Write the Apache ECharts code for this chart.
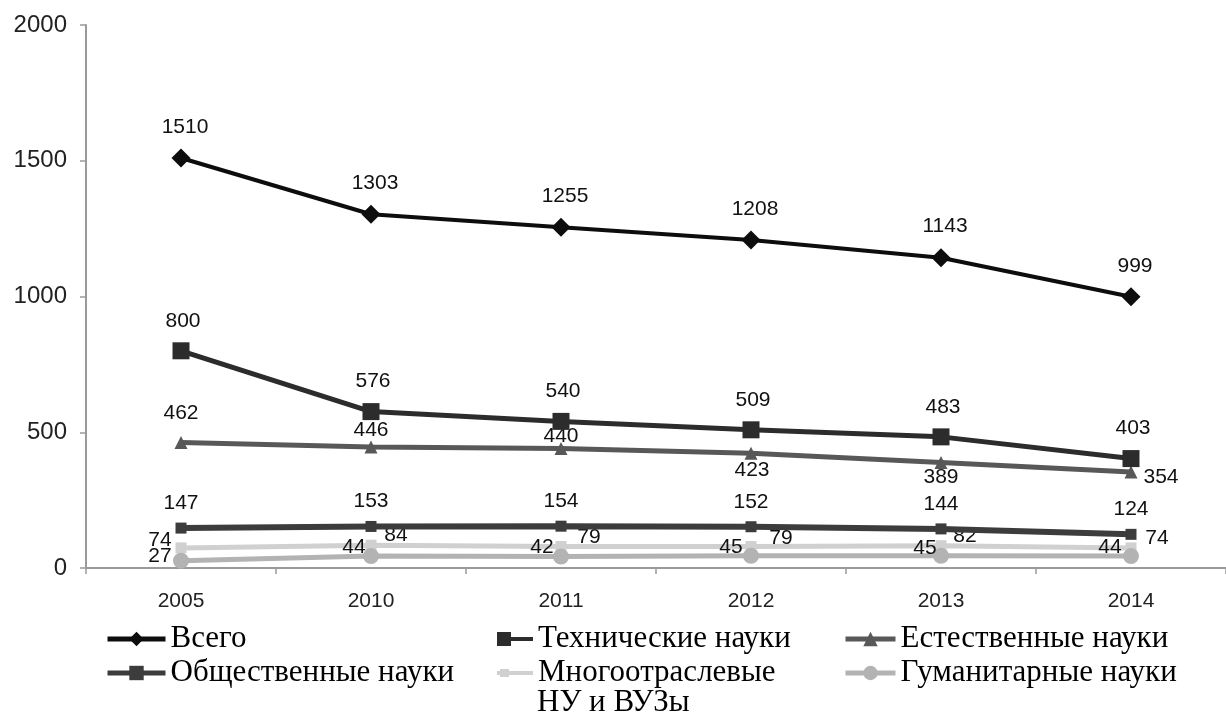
<!DOCTYPE html>
<html>
<head>
<meta charset="utf-8">
<script src="https://cdn.jsdelivr.net/npm/echarts@6/dist/echarts.min.js"></script>
<style>
  html, body { margin: 0; padding: 0; background: #fff; }
  #chart { width: 1226px; height: 714px; }
</style>
</head>
<body>
<div id="chart"></div>
<script>
// Years on the horizontal axis
const years = ['2005', '2010', '2011', '2012', '2013', '2014'];

// Number of organisations by field of science
const vsego        = [1510, 1303, 1255, 1208, 1143, 999];
const tekhnicheskie = [800, 576, 540, 509, 483, 403];
const estestvennye = [462, 446, 440, 423, 389, 354];
const obshchestvennye = [147, 153, 154, 152, 144, 124];
const mnogootraslevye = [74, 84, 79, 79, 82, 74];
const gumanitarnye = [27, 44, 42, 45, 45, 44];

// Value-axis ticks
const yTicks = { min: 0, max: 2000, step: 500 };

// Label offsets (pixels from each marker centre)
const offAll = (dx, dy) => years.map(() => [dx, dy]);
const offVsego = offAll(4, -31);
const offTekh = offAll(2, -30);
const offEst = [[0, -29], [0, -17], [0, -12], [1, 17], [0, 15], [30, 5]];
const offObsh = offAll(0, -25);
const offMnogo = [[-21, -8], [25, -10], [28, -9], [30, -8], [24, -10], [26, -10]];
const offGum = [[-21, -4], [-17, -9], [-19, -9], [-20, -9], [-16, -8], [-21, -9]];

const sans = 'Liberation Sans, Arial, sans-serif';
const serif = 'Liberation Serif, Times New Roman, serif';

function points(vals, offs) {
  return vals.map((v, i) => ({ value: v, label: { offset: offs[i] } }));
}

function lineSeries(name, vals, offs, color, width, symbol, size, z) {
  return {
    name: name,
    type: 'line',
    data: points(vals, offs),
    symbol: symbol,
    symbolSize: size,
    showSymbol: true,
    z: z,
    lineStyle: { color: color, width: width },
    itemStyle: { color: color },
    label: {
      show: true,
      position: 'inside',
      color: '#111',
      fontFamily: sans,
      fontSize: 21
    },
    emphasis: { disabled: true },
    animation: false
  };
}

const MNOGO = 'Многоотраслевые';

const chart = echarts.init(document.getElementById('chart'), null, { renderer: 'canvas' });

const legendText = { fontFamily: serif, fontSize: 31, color: '#000', lineHeight: 34 };

chart.setOption({
  animation: false,
  backgroundColor: '#fff',
  grid: { left: 86, top: 25, width: 1143, height: 543, containLabel: false },
  xAxis: {
    type: 'category',
    data: years,
    boundaryGap: true,
    axisLine: { lineStyle: { color: '#9a9a9a', width: 2 } },
    axisTick: { show: true, alignWithLabel: false, length: 6, lineStyle: { color: '#9a9a9a', width: 1.5 } },
    axisLabel: { color: '#222', fontFamily: sans, fontSize: 21, margin: 23 },
    splitLine: { show: false }
  },
  yAxis: {
    type: 'value',
    min: yTicks.min,
    max: yTicks.max,
    interval: yTicks.step,
    axisLine: { show: true, lineStyle: { color: '#9a9a9a', width: 2 } },
    axisTick: { show: true, length: 6, lineStyle: { color: '#9a9a9a', width: 1.5 } },
    axisLabel: { color: '#222', fontFamily: sans, fontSize: 24, margin: 19, formatter: v => String(v) },
    splitLine: { show: false }
  },
  legend: [
    {
      data: ['Всего', 'Общественные науки'],
      orient: 'vertical', left: 105, top: 622, padding: 0,
      itemGap: 0, itemWidth: 58, itemHeight: 18, itemTextGap: 4,
      lineStyle: { width: 5 },
      textStyle: legendText, selectedMode: false
    },
    {
      data: [
        { name: 'Технические науки', icon: 'path://M0,0H14V14H0Z M14,5H36V9H14Z' },
        { name: MNOGO, icon: 'path://M3,3H12V11H3Z M0,5H36V9H0Z' }
      ],
      orient: 'vertical', left: 497, top: 622, padding: 0,
      itemGap: 0, itemWidth: 36, itemHeight: 14, itemTextGap: 5,
      textStyle: legendText, selectedMode: false
    },
    {
      data: ['Естественные науки', 'Гуманитарные науки'],
      orient: 'vertical', left: 843, top: 622, padding: 0,
      itemGap: 0, itemWidth: 50, itemHeight: 18, itemTextGap: 4,
      lineStyle: { width: 5 },
      textStyle: legendText, selectedMode: false
    }
  ],
  graphic: [
    {
      type: 'text',
      left: 537,
      top: 687,
      style: { text: 'НУ и ВУЗы', font: '31px ' + serif, fill: '#000' }
    }
  ],
  series: [
    lineSeries(MNOGO, mnogootraslevye, offMnogo, '#d0d0d0', 5, 'rect', 11, 2),
    lineSeries('Гуманитарные науки', gumanitarnye, offGum, '#b3b3b3', 5, 'circle', 16, 3),
    lineSeries('Общественные науки', obshchestvennye, offObsh, '#3c3c3c', 6, 'rect', 11, 4),
    lineSeries('Естественные науки', estestvennye, offEst, '#585858', 5, 'triangle', 13, 5),
    lineSeries('Технические науки', tekhnicheskie, offTekh, '#2c2c2c', 5, 'rect', 17, 6),
    lineSeries('Всего', vsego, offVsego, '#0d0d0d', 4, 'diamond', 19, 7)
  ]
});
</script>
</body>
</html>
